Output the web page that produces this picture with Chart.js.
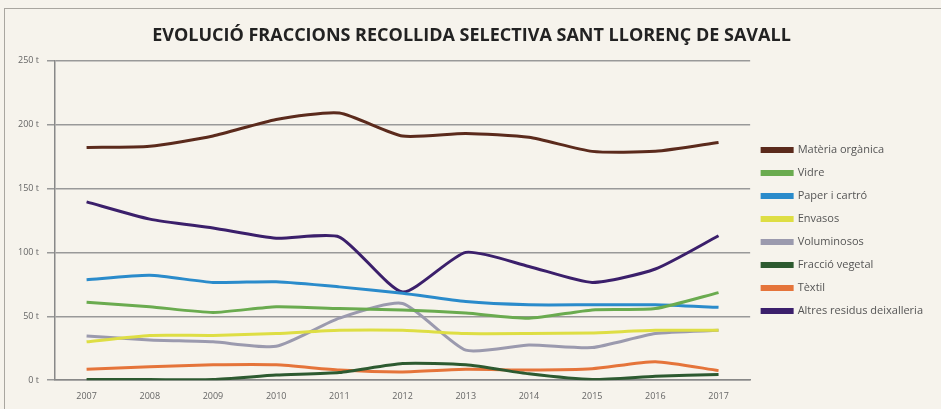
<!DOCTYPE html>
<html>
<head>
<meta charset="utf-8">
<script src="https://cdn.jsdelivr.net/npm/chart.js@4"></script>
<style>
  html, body { margin: 0; padding: 0; background: #f6f3ec; }
  #wrap { width: 941px; height: 409px; position: relative; }
  #frame { position: absolute; left: 4px; top: 8px; right: 0; bottom: 0;
           border-left: 1.5px solid #a9a6a0; border-top: 1.5px solid #a9a6a0; pointer-events: none; }
</style>
</head>
<body>
<div id="wrap"><canvas id="chart"></canvas><div id="frame"></div></div>
<script>
const years = ['2007', '2008', '2009', '2010', '2011', '2012', '2013', '2014', '2015', '2016', '2017'];
const yTicks = [0, 50, 100, 150, 200, 250];

const materiaOrganica = [182, 183, 191, 204, 209, 191, 193, 190, 179, 179, 186];
const vidre = [61, 57.5, 53, 57.5, 56, 55, 52.5, 48.5, 55, 56, 68.5];
const paperCartro = [78.5, 82, 76.5, 77, 73, 68, 61.5, 59, 59, 59, 57];
const envasos = [30, 35, 35, 36.5, 39, 39, 36.5, 36.5, 37, 39, 39];
const voluminosos = [34.5, 31.5, 30, 26.5, 48.5, 60, 23.5, 27.5, 25.5, 36.5, 39];
const fraccioVegetal = [0.5, 0.5, 0.5, 4, 6, 13, 12, 5, 0.5, 3, 4.5];
const textil = [8.5, 10.5, 12, 12, 8, 6.5, 8.5, 8, 9, 14.5, 7.5];
const altresDeixalleria = [139.5, 126, 119, 111, 112, 69, 100, 89, 76.5, 87, 113];

const names = ['Matèria orgànica', 'Vidre', 'Paper i cartró', 'Envasos', 'Voluminosos', 'Fracció vegetal', 'Tèxtil', 'Altres residus deixalleria'];
const series = [materiaOrganica, vidre, paperCartro, envasos, voluminosos, fraccioVegetal, textil, altresDeixalleria];
const colors = ['#5b2a1c', '#6aab4f', '#2a8bcb', '#dede44', '#9b9aae', '#2d5a30', '#e5743a', '#3b1f6b'];

const ctx = document.getElementById('chart').getContext('2d');
const chart = new Chart(ctx, {
    type: 'line',
    data: {
        labels: years,
        datasets: series.map((d, i) => ({
            label: names[i],
            data: d,
            borderColor: colors[i],
            backgroundColor: colors[i],
            borderWidth: 3,
            pointRadius: 0,
            tension: 0.2,
            fill: false
        }))
    },
    options: {
        responsive: true,
        maintainAspectRatio: false,
        animation: false,
        layout: { padding: { left: 10, right: 8, top: 14, bottom: 4 } },
        plugins: {
            title: {
                display: true,
                text: 'EVOLUCIÓ FRACCIONS RECOLLIDA SELECTIVA SANT LLORENÇ DE SAVALL',
                color: '#222',
                font: { family: 'Open Sans', size: 18, weight: 'bold' },
                padding: { top: 11, bottom: 14 }
            },
            legend: {
                position: 'right',
                title: { display: true, text: ' ', padding: { top: 0, bottom: 30 }, font: { size: 10 } },
                labels: {
                    boxWidth: 30,
                    boxHeight: 3,
                    padding: 12,
                    color: '#555',
                    font: { family: 'Open Sans', size: 11 }
                }
            },
            tooltip: { enabled: false }
        },
        scales: {
            x: {
                offset: true,
                grid: { display: false },
                border: { color: '#888', width: 1.5 },
                ticks: { color: '#666', font: { family: 'Open Sans', size: 9 } }
            },
            y: {
                min: 0,
                max: 250,
                afterBuildTicks: axis => { axis.ticks = yTicks.map(v => ({ value: v })); },
                grid: { color: '#999', lineWidth: 1.5 },
                border: { color: '#888', width: 1.5 },
                ticks: {
                    color: '#666',
                    padding: 8,
                    font: { family: 'Open Sans', size: 9 },
                    callback: v => v + ' t'
                }
            }
        }
    }
});
</script>
</body>
</html>
